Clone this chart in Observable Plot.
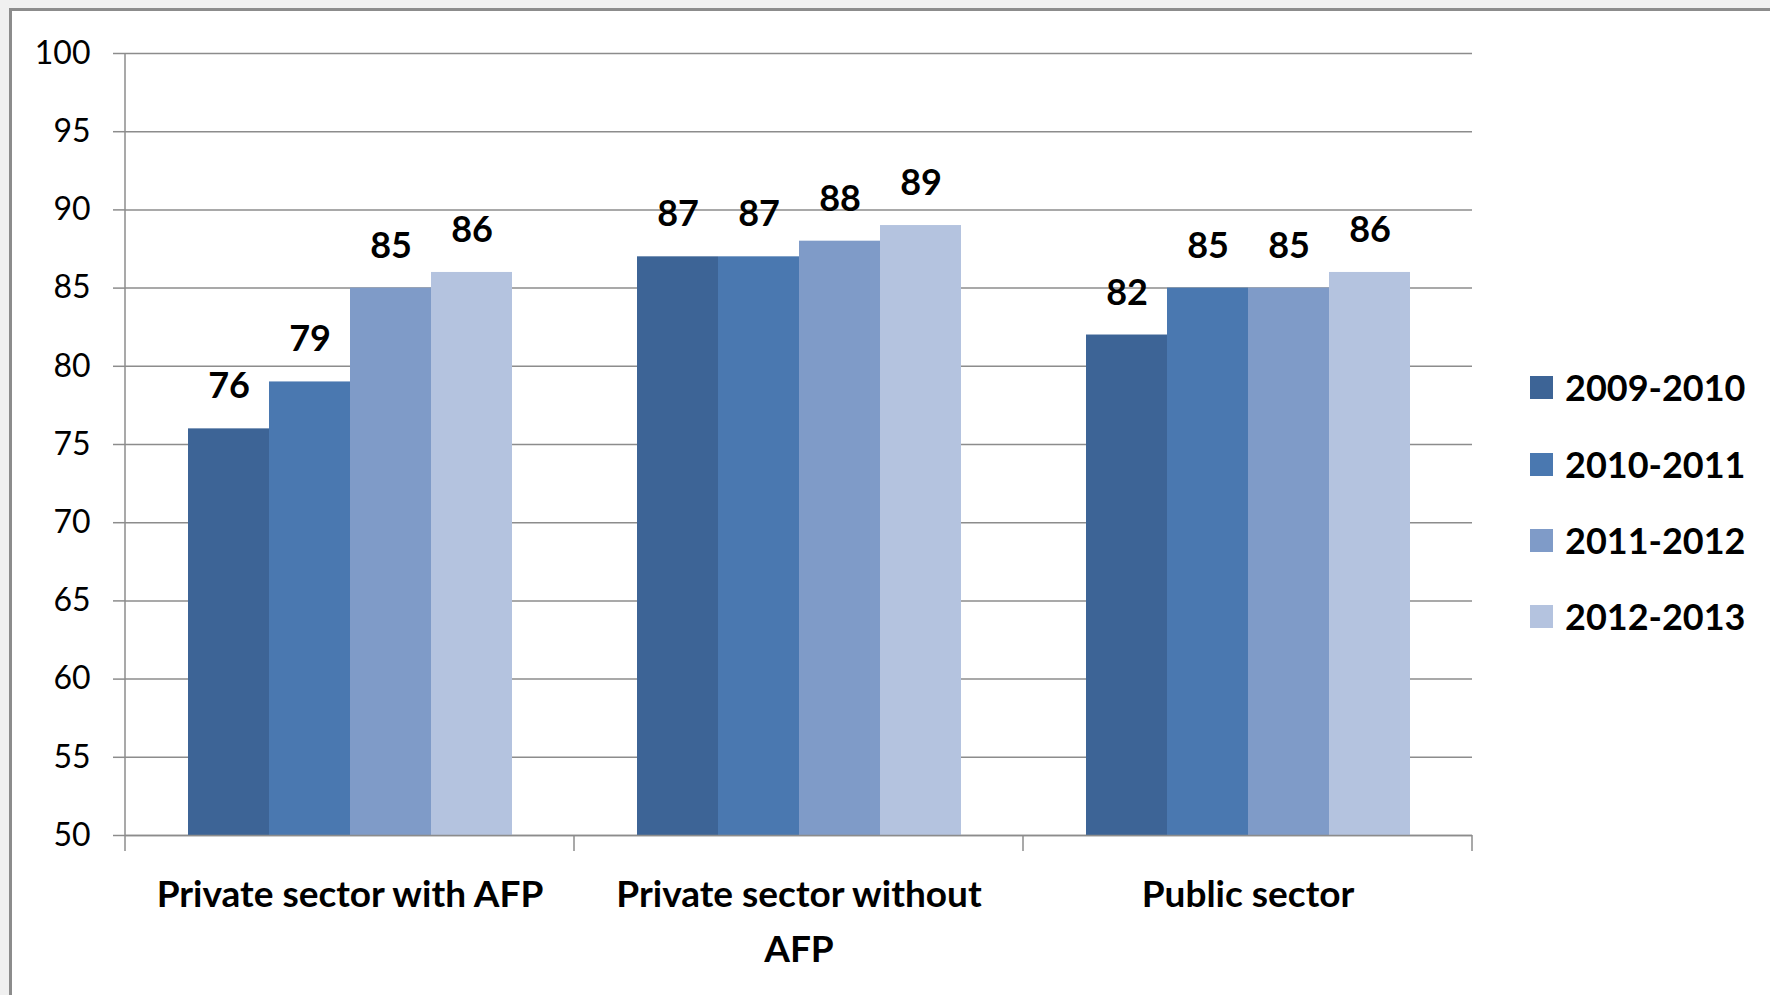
<!DOCTYPE html>
<html>
<head>
<meta charset="utf-8">
<script src="https://cdn.jsdelivr.net/npm/d3@7"></script>
<script src="https://cdn.jsdelivr.net/npm/@observablehq/plot@0.6"></script>
<style>
  html, body { margin: 0; padding: 0; background: #f0f0f0; width: 1770px; height: 995px; overflow: hidden; font-family: Lato, "Open Sans", sans-serif; }
  #frame { position: absolute; left: 9px; top: 8px; right: 0; bottom: 0; background: #fff; border-left: 3px solid #8c8c8c; border-top: 3px solid #8c8c8c; }
  #chart { position: absolute; left: 0; top: 0; }
  #legend { position: absolute; left: 1530px; top: 0; font-family: Lato, sans-serif; font-weight: 700; font-size: 36px; color: #000; }
  .item { position: absolute; left: 0; display: flex; align-items: center; white-space: nowrap; height: 40px; }
  .sw { width: 23px; height: 23px; margin-right: 12px; }
</style>
</head>
<body>
<div id="frame"></div>
<div id="chart"></div>
<div id="legend"></div>
<script>
// ---- data ----
const categories = ["Private sector with AFP", "Private sector without AFP", "Public sector"];
const categoryLabels = ["Private sector with AFP", "Private sector without\nAFP", "Public sector"];
const series = ["2009-2010", "2010-2011", "2011-2012", "2012-2013"];
const values2009 = [76, 87, 82];
const values2010 = [79, 87, 85];
const values2011 = [85, 88, 85];
const values2012 = [86, 89, 86];
const colors = ["#3d6496", "#4a78b0", "#7f9bc8", "#b4c3df"];
const yTicks = [50, 55, 60, 65, 70, 75, 80, 85, 90, 95, 100];
const yDomain = [50, 100];

const seriesValues = [values2009, values2010, values2011, values2012];
const data = [];
categories.forEach((c, i) => series.forEach((s, j) => data.push({category: c, series: s, value: seriesValues[j][i]})));
const labelOf = new Map(categories.map((c, i) => [c, categoryLabels[i]]));

const gray = "#8c8c8c";
const W = 1770, H = 995;

const plot = Plot.plot({
  width: W,
  height: H,
  marginLeft: 124,
  marginRight: 297,
  marginTop: 53,
  marginBottom: 160,
  style: {background: "transparent", fontFamily: "Lato, 'Open Sans', sans-serif", color: "#000"},
  fx: {domain: categories, paddingInner: 0, paddingOuter: 0, axis: null},
  x: {domain: series, paddingInner: 0, paddingOuter: 0.75, axis: null},
  y: {domain: yDomain, axis: null},
  color: {domain: series, range: colors},
  marks: [
    Plot.gridY(yTicks, {stroke: gray, strokeOpacity: 1, strokeWidth: 1.5}),
    Plot.axisY({ticks: yTicks, label: null, tickSize: 12, tickPadding: 23, stroke: gray, strokeOpacity: 1, strokeWidth: 1.5, fill: "#000", fontSize: 32, tickFormat: d => String(d)}),
    Plot.barY(data, {fx: "category", x: "series", y1: yDomain[0], y2: "value", fill: "series"}),
    Plot.ruleY([yDomain[0]], {stroke: gray, strokeWidth: 1.5}),
    Plot.text(data, {fx: "category", x: "series", y: "value", text: d => String(d.value), dy: -42, lineAnchor: "middle", fontSize: 36, fontWeight: 700, fill: "#000"}),
    Plot.text(categories, {fx: d => d, text: d => labelOf.get(d), frameAnchor: "bottom", lineAnchor: "top", dy: 32, lineHeight: 1.49, fontSize: 37, fontWeight: 700, fill: "#000"})
  ]
});

// axis line and category boundary ticks drawn from the plot's own scales
const fx = plot.scale("fx");
const y = plot.scale("y");
const svg = d3.select(plot);
const y0 = y.apply(yDomain[0]);
const y1 = y.apply(yDomain[1]);
const starts = categories.map(c => fx.apply(c));
const bounds = starts.concat([starts[starts.length - 1] + fx.bandwidth]);
const g = svg.append("g").attr("stroke", gray).attr("stroke-width", 1.5);
g.append("line").attr("x1", bounds[0]).attr("x2", bounds[0]).attr("y1", y1).attr("y2", y0 + 16);
bounds.slice(1).forEach(b => g.append("line").attr("x1", b).attr("x2", b).attr("y1", y0).attr("y2", y0 + 16));

document.getElementById("chart").appendChild(plot);

// legend
const legendY = [387, 464, 540, 616];
const legend = document.getElementById("legend");
series.forEach((s, i) => {
  const item = document.createElement("div");
  item.className = "item";
  item.style.top = (legendY[i] - 20) + "px";
  const sw = document.createElement("span");
  sw.className = "sw";
  sw.style.background = colors[i];
  const t = document.createElement("span");
  t.textContent = s;
  item.appendChild(sw);
  item.appendChild(t);
  legend.appendChild(item);
});
</script>
</body>
</html>
